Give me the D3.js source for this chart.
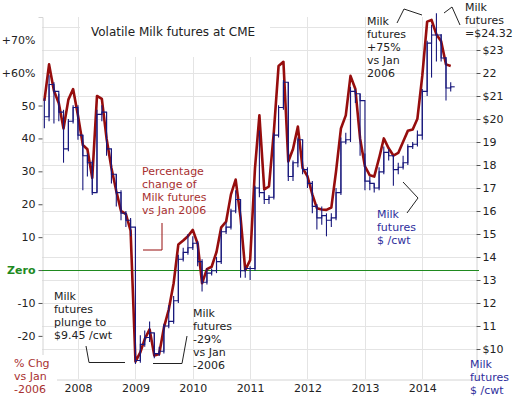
<!DOCTYPE html>
<html>
<head>
<meta charset="utf-8">
<script src="https://cdn.jsdelivr.net/npm/d3@7"></script>
<style>
    body { margin: 0; background: #fff; }
    svg { display: block; font-family: "DejaVu Sans", Verdana, sans-serif; }
</style>
</head>
<body>
<div id="svg-container"></div>
<script>

// monthly, Jun 2007 .. Jul 2014
const firstMonth = new Date(2007, 5, 1);
const lastMonth = new Date(2014, 6, 1);

// % change of milk futures vs Jan 2006 (left axis)
const pctChange = [
    51.4, 62.5, 54.5, 50.7, 43, 51.8, 55,
    47, 38, 36.7, 28, 52.9, 52, 40, 31, 24, 18, 17, 12,
    -27.8, -25, -21, -18, -26, -25.5, -17.5, -12, -4, 7.8, 9, 10.3,
    12.2, 8, -4, 0.3, 1, 5.5, 13, 14.7, 23, 27.5, 16, 0,
    3, 31, 47, 24.5, 25.4, 42, 62, 63.3, 33, 36.8, 43.6, 31,
    28.5, 23, 18.8, 18.4, 18.3, 19, 30, 43, 47, 59, 55, 40,
    31.5, 28.8, 28.4, 34, 40, 37, 34.8, 35.6, 39, 42.3, 42.7, 46,
    59, 75.5, 76, 71.6, 69.5, 62.5, 62
];

// milk futures $/cwt (right axis): close, high, low
const futClose = [
    20.1, 21.5, 21.2, 20.3, 18.7, 19.9, 20.5,
    19.3, 18.4, 18.1, 16.8, 20.2, 20.3, 18.7, 17.6, 16.8, 15.9, 15.6, 15.3,
    9.5, 10.2, 10.5, 10.7, 9.8, 9.9, 11.0, 11.2, 12.1, 13.9, 14.2, 14.4,
    14.6, 13.8, 12.9, 13.3, 13.4, 13.8, 15.1, 15.3, 16.0, 16.5, 13.4, 13.5,
    13.5, 17.0, 16.8, 16.5, 16.6, 19.3, 20.5, 21.6, 17.5, 18.1, 19.1, 17.8,
    17.2, 16.2, 15.7, 15.8, 15.6, 15.7, 16.8, 19.0, 19.1, 21.2, 21.1, 20.8,
    17.3, 17.2, 17.0, 17.7, 18.55, 18.4, 17.8, 17.9, 18.1, 18.8, 18.9, 19.3,
    21.2, 23.3, 23.65, 23.65, 22.65, 21.35, 21.4
];
const futHigh = [
    20.9, 21.9, 21.6, 21.1, 20.4, 20.0, 20.6,
    20.6, 19.3, 18.5, 18.2, 20.4, 20.6, 20.3, 18.7, 17.6, 16.9, 16.0, 15.7,
    15.3, 10.6, 10.8, 11.2, 10.7, 10.1, 11.1, 11.9, 12.3, 14.1, 14.4, 15.0,
    14.9, 14.7, 13.9, 13.5, 13.5, 14.0, 15.2, 15.5, 16.1, 16.9, 16.5, 13.6,
    13.6, 17.1, 19.5, 16.9, 16.7, 19.4, 20.6, 21.7, 21.6, 18.2, 19.2, 19.1,
    17.9, 17.3, 16.3, 16.2, 15.9, 15.9, 17.0, 19.2, 19.4, 21.4, 21.3, 21.1,
    18.5, 17.5, 17.2, 17.9, 18.8, 18.7, 18.4, 18.1, 18.4, 18.9, 19.0, 19.5,
    21.3, 23.4, 24.1, 24.6, 23.7, 22.7, 21.6
];
const futLow = [
    19.6, 19.9, 19.8, 19.9, 18.1, 18.6, 19.8,
    19.1, 16.9, 17.5, 16.7, 16.8, 19.9, 18.4, 17.2, 16.2, 15.6, 15.3, 14.9,
    9.35, 9.4, 10.1, 10.3, 9.6, 9.7, 9.8, 10.9, 11.1, 12.0, 13.8, 14.1,
    14.3, 13.6, 12.5, 12.8, 13.2, 13.3, 13.7, 15.0, 15.2, 15.9, 13.1, 13.1,
    13.0, 13.4, 16.6, 16.3, 16.3, 16.5, 19.2, 20.4, 17.3, 17.3, 17.9, 17.6,
    17.0, 15.9, 15.2, 15.4, 14.9, 15.3, 15.6, 16.7, 18.9, 19.0, 20.7, 18.4,
    16.9, 16.9, 16.8, 16.9, 17.6, 18.2, 17.1, 17.6, 17.8, 18.0, 18.7, 18.8,
    19.1, 21.0, 21.8, 22.5, 22.5, 20.8, 21.2
];

const pctTicks = [-20, -10, 0, 10, 20, 30, 40, 50, 60, 70];
const pctTickLabels = ["-20", "-10", "Zero", "10", "20", "30", "40", "50", "+60%", "+70%"];
const usdTicks = [10, 11, 12, 13, 14, 15, 16, 17, 18, 19, 20, 21, 22, 23];
const usdTickLabels = ["$10", "11", "12", "13", "14", "15", "16", "17", "18", "19", "$20", "$21", "22", "$23"];
const usdGrid = [10, 11, 12, 13, 14, 15, 16, 17, 18, 19, 20, 21, 22, 23, 24];
const years = [2008, 2009, 2010, 2011, 2012, 2013, 2014];

const red = "#960d0d";
const redText = "#a83030";
const navy = "#18187c";
const blueText = "#2e2e9c";
const ink = "#222";
const green = "#1f8a1f";

const buildChart = () => {

    let [viewWidth, viewHeight] = [518, 396];
    let [left, right, top, bottom] = [42, 476, 17, 379];

    let svg = d3.select("#svg-container")
        .append("svg")
        .attr("width", viewWidth)
        .attr("height", viewHeight)
        .attr("viewBox", `0 0 ${viewWidth} ${viewHeight}`);

    let months = d3.timeMonth.range(firstMonth, d3.timeMonth.offset(lastMonth, 1));
    let pctData = months.map((d, i) => ({date: d, value: pctChange[i]}));
    let futData = months.map((d, i) => ({date: d, close: futClose[i], high: futHigh[i], low: futLow[i]}));

    const x = d3.scaleTime()
        .domain([new Date(2007, 4, 17), new Date(2014, 11, 9)])
        .range([left, right]);

    const yPct = d3.scaleLinear()
        .domain([-33.1, 76.9])
        .range([bottom, top]);

    const yUsd = d3.scaleLinear()
        .domain([8.696, 24.435])
        .range([bottom, top]);

    // grid
    let grid = svg.append("g").attr("stroke", "#e4e4e4").attr("stroke-width", 1);
    grid.selectAll(".hgrid")
        .data(usdGrid)
        .enter()
        .append("line")
        .attr("x1", left)
        .attr("x2", right)
        .attr("y1", d => Math.round(yUsd(d)) + 0.5)
        .attr("y2", d => Math.round(yUsd(d)) + 0.5);
    grid.selectAll(".vgrid")
        .data(years)
        .enter()
        .append("line")
        .attr("x1", d => Math.round(x(new Date(d, 0, 1))) + 0.5)
        .attr("x2", d => Math.round(x(new Date(d, 0, 1))) + 0.5)
        .attr("y1", top)
        .attr("y2", bottom);

    // axes
    let leftAxis = svg.append("g")
        .attr("transform", `translate(${left + 0.5},0)`)
        .call(d3.axisLeft(yPct)
            .tickValues(pctTicks)
            .tickFormat((d, i) => pctTickLabels[i])
            .tickSize(4)
            .tickPadding(3));

    let rightAxis = svg.append("g")
        .attr("transform", `translate(${right + 0.5},0)`)
        .call(d3.axisRight(yUsd)
            .tickValues(usdTicks)
            .tickFormat((d, i) => usdTickLabels[i])
            .tickSize(4)
            .tickPadding(2));

    let bottomAxis = svg.append("g")
        .attr("transform", `translate(0,${bottom + 0.5})`)
        .call(d3.axisBottom(x)
            .tickValues(years.map(d => new Date(d, 0, 1)))
            .tickFormat(d3.timeFormat("%Y"))
            .tickSize(0)
            .tickPadding(5));

    [leftAxis, rightAxis, bottomAxis].forEach(g => {
        g.select(".domain").attr("stroke", "#d4d4d4");
        g.selectAll(".tick line").attr("stroke", "#555");
        g.selectAll("text")
            .attr("font-family", "DejaVu Sans, Verdana, sans-serif")
            .attr("font-size", 11)
            .attr("fill", ink);
    });

    leftAxis.selectAll(".tick")
        .filter(d => d >= 60)
        .select("line")
        .remove();

    leftAxis.selectAll(".tick")
        .filter(d => d === 0)
        .select("text")
        .attr("fill", green)
        .attr("font-weight", 700);

    // white boxes behind title and corner label
    svg.append("rect")
        .attr("x", 80).attr("y", top)
        .attr("width", 190).attr("height", 40)
        .attr("fill", "#fff");
    svg.append("rect")
        .attr("x", 0).attr("y", 355)
        .attr("width", 57).attr("height", 41)
        .attr("fill", "#fff");

    svg.append("text")
        .attr("x", 91)
        .attr("y", 36)
        .attr("font-size", 12)
        .attr("fill", ink)
        .text("Volatile Milk futures at CME");

    // zero line
    svg.append("line")
        .attr("x1", left)
        .attr("x2", right + 3)
        .attr("y1", Math.round(yPct(0)) + 0.5)
        .attr("y2", Math.round(yPct(0)) + 0.5)
        .attr("stroke", green)
        .attr("stroke-width", 1.2);

    // % change line
    const pctLine = d3.line()
        .x(d => x(d.date))
        .y(d => yPct(d.value));

    svg.append("path")
        .datum(pctData)
        .attr("d", pctLine)
        .attr("fill", "none")
        .attr("stroke", red)
        .attr("stroke-width", 2.6)
        .attr("stroke-linejoin", "round");

    // futures price: monthly step + high/low bars
    const stepLine = d3.line()
        .curve(d3.curveStepAfter)
        .x(d => x(d.date))
        .y(d => yUsd(d.close));

    let fut = svg.append("g")
        .attr("stroke", navy)
        .attr("stroke-width", 1.1)
        .attr("fill", "none");

    fut.append("path")
        .datum(futData)
        .attr("d", stepLine);

    fut.selectAll(".bar")
        .data(futData)
        .enter()
        .append("line")
        .attr("x1", d => x(d.date))
        .attr("x2", d => x(d.date))
        .attr("y1", d => yUsd(d.low))
        .attr("y2", d => yUsd(d.high));

    let last = futData[futData.length - 1];
    fut.append("line")
        .attr("x1", x(last.date))
        .attr("x2", x(last.date) + 4)
        .attr("y1", yUsd(last.close))
        .attr("y2", yUsd(last.close));

    // annotations
    const notes = [
        {lines: ["Percentage", "change of", "Milk futures", "vs Jan 2006"], x: 142, y: 175, color: redText},
        {lines: ["Milk", "futures", "plunge to", "$9.45 /cwt"], x: 54, y: 300, color: ink},
        {lines: ["Milk", "futures", "-29%", "vs Jan", "-2006"], x: 193, y: 317, color: ink},
        {lines: ["Milk", "futures", "+75%", "vs Jan", "2006"], x: 367, y: 25, color: ink},
        {lines: ["Milk", "futures", "=$24.32"], x: 465, y: 11, color: ink},
        {lines: ["Milk", "futures", "$ /cwt"], x: 377, y: 218, color: blueText},
        {lines: ["% Chg", "vs Jan", "-2006"], x: 14, y: 367, color: redText},
        {lines: ["Milk", "futures", "$ /cwt"], x: 470, y: 368, color: blueText}
    ];

    notes.forEach(n => {
        svg.append("text")
            .attr("font-size", 11)
            .attr("fill", n.color)
            .selectAll("tspan")
            .data(n.lines)
            .enter()
            .append("tspan")
            .attr("x", n.x)
            .attr("y", (d, i) => n.y + i * 13)
            .text(d => d);
    });

    const leaders = [
        {pts: [[143, 250], [162, 250], [162, 223]], color: red},
        {pts: [[86, 346], [89, 362.5], [125, 362.5]], color: ink},
        {pts: [[153, 363.5], [182, 363.5], [187, 336]], color: ink},
        {pts: [[397, 23], [404, 9], [422, 15]], color: ink},
        {pts: [[444, 13], [452, 7], [460, 25]], color: ink},
        {pts: [[403, 182], [418, 198], [407, 213]], color: ink}
    ];

    leaders.forEach(l => {
        svg.append("path")
            .attr("d", d3.line()(l.pts))
            .attr("fill", "none")
            .attr("stroke", l.color)
            .attr("stroke-width", 1);
    });
};

buildChart();
</script>
</body>
</html>
